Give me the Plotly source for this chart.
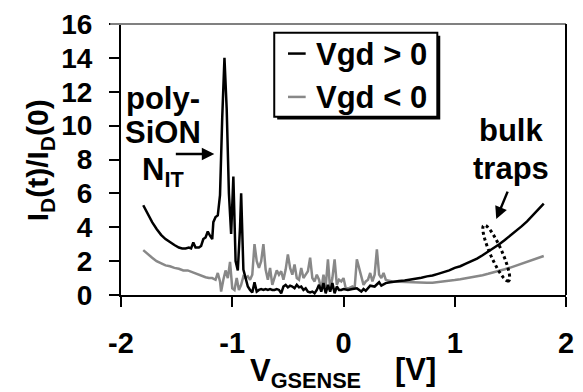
import math
import plotly.graph_objects as go

# ---- data: normalised drain current vs sense gate voltage ----
x_pos = [-1.80, -1.76, -1.72, -1.68, -1.64, -1.60, -1.56, -1.52, -1.48, -1.45,
         -1.42, -1.39, -1.37, -1.35, -1.33, -1.30, -1.28, -1.26, -1.24, -1.22,
         -1.20, -1.18, -1.17, -1.15, -1.13, -1.11, -1.09, -1.07, -1.05, -1.03,
         -1.01, -0.99, -0.97, -0.95, -0.93, -0.92, -0.90, -0.88, -0.86, -0.84,
         -0.82, -0.80, -0.78, -0.76, -0.74, -0.72, -0.70, -0.68, -0.66, -0.64,
         -0.62, -0.60, -0.58, -0.56, -0.54, -0.52, -0.50, -0.48, -0.46, -0.44,
         -0.42, -0.40, -0.38, -0.36, -0.34, -0.32, -0.30, -0.28, -0.26, -0.24,
         -0.22, -0.20, -0.18, -0.16, -0.14, -0.12, -0.10, -0.08, -0.06, -0.04,
         -0.02, 0.00, 0.04, 0.08, 0.12, 0.16, 0.18, 0.20, 0.24, 0.28,
         0.32, 0.34, 0.38, 0.42, 0.46, 0.50, 0.55, 0.60, 0.65, 0.70,
         0.75, 0.80, 0.85, 0.90, 0.95, 1.00, 1.05, 1.10, 1.15, 1.20,
         1.25, 1.30, 1.35, 1.40, 1.45, 1.50, 1.55, 1.60, 1.65, 1.70,
         1.75, 1.80]
y_pos = [5.3, 4.8, 4.3, 3.9, 3.55, 3.3, 3.1, 2.95, 2.8, 2.75,
         2.75, 2.8, 2.75, 3.1, 2.8, 2.8, 2.9, 3.3, 3.4, 3.75,
         3.5, 3.3, 4.3, 4.6, 4.7, 5.9, 10.5, 14.0, 11.0, 6.0,
         3.6, 7.0, 2.0, 1.45, 4.0, 6.0, 1.5, 0.95, 0.5, 0.3,
         0.15, 0.75, 0.2, 0.3, 0.35, 0.3, 0.35, 0.3, 0.35, 0.3,
         0.3, 0.35, 0.3, 0.1, 0.5, 0.6, 0.45, 0.55, 0.5, 0.4,
         0.6, 0.45, 0.5, 0.3, 0.4, 0.2, 0.15, 0.2, 0.1, 0.3,
         0.6, 0.2, 0.7, 0.1, 0.6, 0.2, 0.7, 0.1, 0.5, 0.3,
         0.3, 0.35, 0.3, 0.35, 0.4, 0.2, 0.35, 0.25, 0.55, 0.5,
         0.75, 0.55, 0.7, 0.75, 0.8, 0.82, 0.85, 0.9, 0.95, 1.02,
         1.1, 1.15, 1.25, 1.35, 1.45, 1.6, 1.7, 1.85, 2.0, 2.15,
         2.35, 2.55, 2.75, 3.0, 3.25, 3.5, 3.8, 4.05, 4.35, 4.7,
         5.05, 5.4]

x_neg = [-1.80, -1.76, -1.72, -1.68, -1.64, -1.60, -1.56, -1.52, -1.48, -1.44,
         -1.40, -1.36, -1.32, -1.30, -1.27, -1.24, -1.21, -1.18, -1.15, -1.13,
         -1.11, -1.10, -1.08, -1.06, -1.04, -1.02, -1.00, -0.98, -0.96, -0.94,
         -0.92, -0.90, -0.88, -0.86, -0.84, -0.82, -0.80, -0.78, -0.76, -0.74,
         -0.72, -0.70, -0.68, -0.66, -0.64, -0.62, -0.60, -0.58, -0.56, -0.54,
         -0.52, -0.50, -0.48, -0.46, -0.44, -0.42, -0.40, -0.38, -0.36, -0.34,
         -0.32, -0.30, -0.28, -0.26, -0.24, -0.22, -0.20, -0.18, -0.16, -0.14,
         -0.12, -0.10, -0.08, -0.06, -0.04, -0.02, 0.00, 0.02, 0.05, 0.08,
         0.10, 0.12, 0.14, 0.16, 0.18, 0.20, 0.22, 0.24, 0.26, 0.28,
         0.30, 0.32, 0.34, 0.36, 0.38, 0.40, 0.44, 0.50, 0.55, 0.60,
         0.65, 0.70, 0.75, 0.80, 0.85, 0.90, 0.95, 1.00, 1.05, 1.10,
         1.15, 1.20, 1.25, 1.30, 1.35, 1.40, 1.45, 1.50, 1.55, 1.60,
         1.65, 1.70, 1.75, 1.80]
y_neg = [2.65, 2.4, 2.2, 2.0, 1.85, 1.75, 1.7, 1.6, 1.55, 1.45,
         1.45, 1.35, 1.25, 1.2, 1.1, 1.05, 1.0, 1.0, 0.9, 1.3,
         0.8, 0.2, 0.9, 1.45, 1.0, 1.95, 0.4, 0.3, 1.0, 0.3,
         0.6, 1.1, 1.0, 1.1, 0.9, 1.2, 3.0, 2.0, 1.6, 2.0,
         3.0, 1.5, 0.9, 1.6, 0.6, 1.0, 1.45, 1.2, 1.4, 0.9,
         1.5, 2.4, 1.6, 1.2, 1.8, 1.0, 0.9, 1.6, 1.0, 1.2,
         1.4, 2.2, 1.0, 0.8, 1.2, 0.9, 0.3, 1.2, 0.5, 2.1,
         0.3, 1.0, 2.1, 0.6, 0.9, 0.8, 1.0, 0.4, 0.4, 0.5,
         0.4, 2.1, 1.6, 1.0, 0.6, 0.8, 0.9, 1.3, 0.8, 1.2,
         2.7, 1.2, 1.0, 1.3, 0.9, 0.85, 0.8, 0.78, 0.76, 0.74,
         0.73, 0.72, 0.72, 0.73, 0.76, 0.8, 0.84, 0.88, 0.93, 0.98,
         1.04, 1.1, 1.17, 1.25, 1.33, 1.42, 1.52, 1.62, 1.73, 1.84,
         1.95, 2.06, 2.18, 2.3]

x_ticks = [-2, -1, 0, 1, 2]
x_tick_text = ["-2", "-1", "0", "1", "2"]
y_ticks = [0, 2, 4, 6, 8, 10, 12, 14, 16]
series_names = ["Vgd > 0", "Vgd < 0"]
series_colors = ["#000000", "#888888"]

# ---- page geometry (pixels) ----
W, H = 583, 392
L, R, T, B = 121, 574, 20, 295
X0, X1, Y0, Y1 = -2.0, 2.0, 0.0, 16.0
FONT = "Liberation Sans, Arial, sans-serif"


def px_to_paper_x(px):
    return (px - L) / (R - L)


def px_to_paper_y(py):
    return (B - py) / (B - T)


def px_to_data_x(px):
    return X0 + (px - L) / (R - L) * (X1 - X0)


def px_to_data_y(py):
    return Y0 + (B - py) / (B - T) * (Y1 - Y0)


fig = go.Figure()
for xs, ys, name, color in [(x_neg, y_neg, series_names[1], series_colors[1]),
                            (x_pos, y_pos, series_names[0], series_colors[0])]:
    fig.add_trace(go.Scatter(x=xs, y=ys, mode="lines", name=name,
                             line=dict(color=color, width=2.5),
                             showlegend=False))

axis_common = dict(showline=True, linecolor="black", linewidth=2,
                   ticks="outside", ticklen=10, tickwidth=2, tickcolor="black",
                   showgrid=False, zeroline=False)

fig.update_xaxes(range=[X0, X1], tickvals=x_ticks, ticktext=x_tick_text,
                 ticklabelstandoff=11,
                 tickfont=dict(family=FONT, size=29, color="black", weight="bold"),
                 **axis_common)
fig.update_yaxes(range=[Y0, Y1], tickvals=y_ticks, ticklabelstandoff=11,
                 tickfont=dict(family=FONT, size=28, color="black", weight="bold"),
                 **axis_common)

shapes = []
# plot frame: grey top edge, black right edge
shapes.append(dict(type="line", xref="paper", yref="paper",
                   x0=px_to_paper_x(110), x1=1, y0=1, y1=1,
                   line=dict(color="#808080", width=2)))
shapes.append(dict(type="line", xref="paper", yref="paper",
                   x0=1, x1=1, y0=0, y1=1, line=dict(color="black", width=2)))

# legend box with drop shadow
lg_l, lg_t, lg_r, lg_b = 277, 29, 443, 114
shapes.append(dict(type="rect", xref="paper", yref="paper", layer="above",
                   x0=px_to_paper_x(lg_l + 3), x1=px_to_paper_x(lg_r + 3),
                   y0=px_to_paper_y(lg_b + 3), y1=px_to_paper_y(lg_t + 3),
                   fillcolor="black", line=dict(width=0)))
shapes.append(dict(type="rect", xref="paper", yref="paper", layer="above",
                   x0=px_to_paper_x(lg_l), x1=px_to_paper_x(lg_r),
                   y0=px_to_paper_y(lg_b), y1=px_to_paper_y(lg_t),
                   fillcolor="white", line=dict(color="black", width=2)))
row_y = [50, 94]
for ry, color in zip(row_y, series_colors):
    shapes.append(dict(type="line", xref="paper", yref="paper", layer="above",
                       x0=px_to_paper_x(291), x1=px_to_paper_x(309),
                       y0=px_to_paper_y(ry), y1=px_to_paper_y(ry),
                       line=dict(color=color, width=2.5)))

# dotted ellipse around the bulk-trap region
cx, cy, a, b = 503.0, 252.5, 31.0, 6.0
theta = math.atan2(61, 27)
pts = []
for k in range(41):
    t = 2 * math.pi * k / 40
    ux, uy = a * math.cos(t), b * math.sin(t)
    px = cx + ux * math.cos(theta) - uy * math.sin(theta)
    py = cy + ux * math.sin(theta) + uy * math.cos(theta)
    pts.append((px_to_data_x(px), px_to_data_y(py)))
path = "M " + " L ".join(f"{x:.4f},{y:.4f}" for x, y in pts) + " Z"
shapes.append(dict(type="path", xref="x", yref="y", path=path,
                   line=dict(color="black", width=3, dash="dot")))

annotations = []


def text_at(px, py, text, size, xanchor="center"):
    annotations.append(dict(x=px_to_paper_x(px), y=px_to_paper_y(py),
                            xref="paper", yref="paper", text=text,
                            showarrow=False, xanchor=xanchor, yanchor="middle",
                            font=dict(family=FONT, size=size, color="black",
                                      weight="bold")))


for ry, name in zip(row_y, series_names):
    text_at(317, ry + 1, name, 31, xanchor="left")

text_at(164, 96, "poly-", 31)
text_at(164, 130, "SiON", 31)
text_at(164, 170, "N<sub>IT</sub>", 31)
text_at(518, 128, "bulk", 31)
text_at(518, 167, "traps", 31)

# axis titles
annotations.append(dict(x=px_to_paper_x(18), y=px_to_paper_y(158),
                        xref="paper", yref="paper", text="I<sub>D</sub>(t)/I<sub>D</sub>(0)",
                        textangle=-90, showarrow=False,
                        font=dict(family=FONT, size=30, color="black", weight="bold")))
text_at(309, 374, "V<sub>GSENSE</sub>", 31)
text_at(421, 371, "[V]", 31)

# arrows
annotations.append(dict(x=px_to_data_x(216), y=px_to_data_y(152), xref="x", yref="y",
                        text="", showarrow=True, axref="pixel", ayref="pixel",
                        ax=-40, ay=0, arrowhead=2, arrowsize=1, arrowwidth=2.5,
                        arrowcolor="black"))
annotations.append(dict(x=px_to_data_x(503), y=px_to_data_y(218), xref="x", yref="y",
                        text="", showarrow=True, axref="pixel", ayref="pixel",
                        ax=12, ay=-29, arrowhead=2, arrowsize=1, arrowwidth=2.5,
                        arrowcolor="black"))

fig.update_layout(width=W, height=H, margin=dict(l=L, r=W - R, t=T, b=H - B),
                  paper_bgcolor="white", plot_bgcolor="white",
                  shapes=shapes, annotations=annotations, showlegend=False)

fig.write_html("out.html")
